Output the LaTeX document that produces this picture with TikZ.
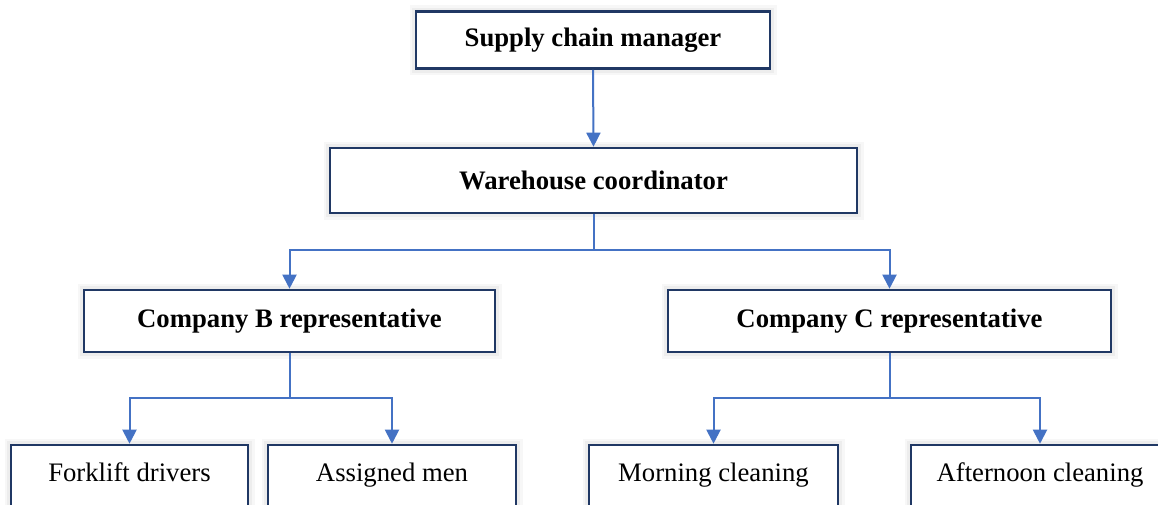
\documentclass[tikz,border=0pt]{standalone}
\usepackage{fontspec}
\setmainfont{Liberation Serif}
\usetikzlibrary{arrows.meta}
\definecolor{boxline}{HTML}{203864}
\definecolor{linkblue}{HTML}{4472C4}
\tikzset{
  orgbox/.style={draw=boxline, line width=2.6pt, fill=white, rectangle,
    inner sep=0pt, align=center,
    preaction={draw=black!3, line width=13pt},
    preaction={draw=black!7, line width=8pt},
    font=\fontsize{26.7}{31}\selectfont},
  headbox/.style={orgbox, font=\fontsize{26.7}{31}\selectfont\bfseries},
  staffbox/.style={orgbox, minimum height=66pt, text height=18pt, text depth=12pt},
  link/.style={draw=linkblue, line width=2pt},
  linkarrow/.style={link, -{Triangle[width=14pt,length=14pt]}},
}
\begin{document}
\begin{tikzpicture}[x=1pt,y=-1pt]
\useasboundingbox (0,0) rectangle (1158,504);
\fill[white] (0,0) rectangle (1158,504);

% management levels
\node[headbox, minimum width=354pt, minimum height=57pt] (scm) at (593,40) {Supply chain manager};
\node[headbox, minimum width=527pt, minimum height=65pt] (wc) at (593.5,180.5) {Warehouse coordinator};
\node[headbox, minimum width=411pt, minimum height=62pt] (cb) at (289.5,321) {Company B representative};
\node[headbox, minimum width=443pt, minimum height=62pt] (cc) at (889.5,321) {Company C representative};

% staff groups (running past the lower edge)
\node[staffbox, minimum width=237pt] (fd) at (129.5,478) {Forklift drivers};
\node[staffbox, minimum width=248pt] (am) at (392,478) {Assigned men};
\node[staffbox, minimum width=249pt] (mc) at (713.5,478) {Morning cleaning};
\node[staffbox, minimum width=258pt] (ac) at (1040,478) {Afternoon cleaning};

% branch points
\coordinate (j1) at (593.5,250);
\coordinate (j2) at (289.5,398);
\coordinate (j3) at (889.5,398);

\draw[linkarrow] (scm.south) -- (wc.north);
\draw[link] (wc.south) -- (j1);
\draw[linkarrow] (j1) -| (cb.north);
\draw[linkarrow] (j1) -| (cc.north);
\draw[link] (cb.south) -- (j2);
\draw[linkarrow] (j2) -| (fd.north);
\draw[linkarrow] (j2) -| (am.north);
\draw[link] (cc.south) -- (j3);
\draw[linkarrow] (j3) -| (mc.north);
\draw[linkarrow] (j3) -| (ac.north);
\end{tikzpicture}
\end{document}
